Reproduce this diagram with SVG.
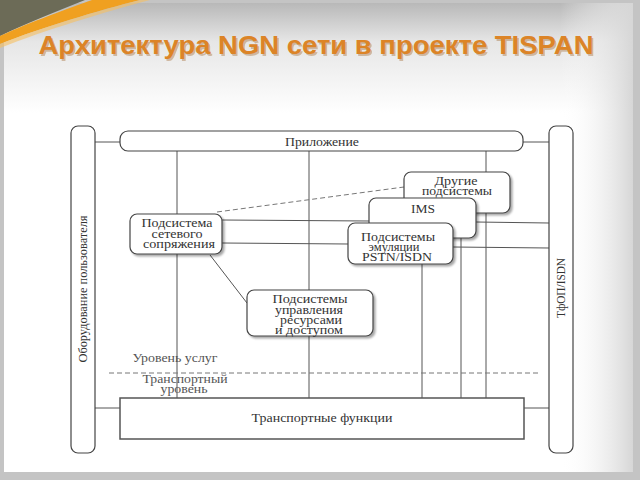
<svg xmlns="http://www.w3.org/2000/svg" width="640" height="480" viewBox="0 0 640 480">
<defs>
<linearGradient id="topg" x1="0" y1="0" x2="0" y2="1">
<stop offset="0" stop-color="#b8b8b8"/>
<stop offset="0.35" stop-color="#e6e6e6"/>
<stop offset="1" stop-color="#ffffff"/>
</linearGradient>
<linearGradient id="rg" x1="0" y1="0" x2="1" y2="0">
<stop offset="0" stop-color="#ffffff" stop-opacity="0"/>
<stop offset="1" stop-color="#d6d6d6"/>
</linearGradient>
<filter id="sh" x="-5%" y="-20%" width="110%" height="140%">
<feGaussianBlur in="SourceAlpha" stdDeviation="1"/>
<feOffset dx="1.5" dy="1.5" result="b"/>
<feComponentTransfer><feFuncA type="linear" slope="0.35"/></feComponentTransfer>
<feMerge><feMergeNode/><feMergeNode in="SourceGraphic"/></feMerge>
</filter>
<style>
.ln{stroke:#555;stroke-width:1;fill:none}
.dash{stroke:#777;stroke-width:1;fill:none;stroke-dasharray:5 3}
.box{fill:#fff;stroke:#444;stroke-width:1.2}
text.t{font-family:'Liberation Serif','DejaVu Serif',serif;font-size:12.5px;fill:#333;text-anchor:middle}
text.ts{font-family:'Liberation Serif','DejaVu Serif',serif;font-size:11.5px;fill:#333;text-anchor:middle}
text.tl{font-family:'Liberation Serif','DejaVu Serif',serif;font-size:12.5px;fill:#555;text-anchor:middle}
</style>
</defs>
<!-- slide background -->
<rect x="0" y="0" width="640" height="480" fill="#c4c4c4"/>
<rect x="4" y="3" width="629" height="469" fill="#ffffff"/>
<rect x="4" y="3" width="629" height="110" fill="url(#topg)"/>
<rect x="560" y="3" width="73" height="469" fill="url(#rg)"/>
<path d="M0,0 L85,0 C55,12 25,24 0,36 Z" fill="#6c6b57"/>
<path d="M0,36 C30,22 70,8 92,0 L140,0 C100,10 40,28 0,44 Z" fill="#f0a020"/>
<path d="M0,44 C40,28 100,10 140,0 L150,0 C105,12 45,30 0,48 Z" fill="#f7c060" opacity="0.6"/>
<!-- title -->
<text x="316" y="54" font-family="'Liberation Sans',Arial,sans-serif" font-size="26" font-weight="bold" fill="#9a5a1a" opacity="0.35" text-anchor="middle" textLength="555" lengthAdjust="spacingAndGlyphs" transform="translate(1.5,1.5)">Архитектура NGN сети в проекте TISPAN</text>
<text id="title" x="316" y="54" font-family="'Liberation Sans',Arial,sans-serif" font-size="26" font-weight="bold" fill="#dc8427" text-anchor="middle" textLength="555" lengthAdjust="spacingAndGlyphs">Архитектура NGN сети в проекте TISPAN</text>

<!-- connectors -->
<g id="connectors">
<line class="ln" x1="95" y1="142" x2="120" y2="142"/>
<line class="ln" x1="523" y1="142" x2="549" y2="142"/>
<line class="ln" x1="95" y1="408" x2="120" y2="408"/>
<line class="ln" x1="524" y1="408" x2="549" y2="408"/>
<line class="ln" x1="177" y1="151" x2="177" y2="398"/>
<line class="ln" x1="309" y1="151" x2="309" y2="398"/>
<line class="ln" x1="486" y1="151" x2="486" y2="398"/>
<line class="ln" x1="461" y1="238" x2="461" y2="398"/>
<line class="ln" x1="422" y1="264" x2="422" y2="398"/>
<line class="ln" x1="222" y1="220" x2="369" y2="221"/>
<line class="ln" x1="476" y1="222" x2="549" y2="223"/>
<line class="ln" x1="222" y1="243" x2="348" y2="244"/>
<line class="ln" x1="453" y1="247" x2="549" y2="248"/>
<line class="dash" x1="217" y1="212" x2="404" y2="187"/>
<line class="ln" x1="210" y1="255" x2="247" y2="303"/>
<line class="dash" x1="109" y1="373" x2="538" y2="373"/>
</g>

<!-- side columns -->
<g id="user-equipment">
<rect class="box" x="71" y="126" width="24" height="327" rx="7"/>
<text class="t" transform="translate(87,289) rotate(-90)" style="font-size:13px" textLength="147" lengthAdjust="spacingAndGlyphs">Оборудование пользователя</text>
</g>
<g id="pstn-isdn">
<rect class="box" x="549" y="126" width="24" height="327" rx="7"/>
<text class="t" transform="translate(565,288) rotate(-90)" style="font-size:13px" textLength="60" lengthAdjust="spacingAndGlyphs">ТфОП/ISDN</text>
</g>

<g id="application">
<rect class="box" x="120" y="131" width="403" height="20" rx="8"/>
<text class="t" x="322" y="146" style="font-size:13px" textLength="74" lengthAdjust="spacingAndGlyphs">Приложение</text>
</g>

<g id="network-interface">
<rect class="box" x="130" y="214" width="92" height="40" rx="7" filter="url(#sh)"/>
<text class="t" x="177" y="227" textLength="71" lengthAdjust="spacingAndGlyphs">Подсистема</text>
<text class="t" x="177" y="238" textLength="51" lengthAdjust="spacingAndGlyphs">сетевого</text>
<text class="t" x="179" y="248" textLength="72" lengthAdjust="spacingAndGlyphs">сопряжения</text>
</g>

<g id="other-subsystems">
<rect class="box" x="404" y="172" width="106" height="41" rx="7" filter="url(#sh)"/>
<text class="t" x="456" y="185" textLength="43" lengthAdjust="spacingAndGlyphs">Другие</text>
<text class="t" x="457" y="195" textLength="70" lengthAdjust="spacingAndGlyphs">подсистемы</text>
</g>

<g id="ims">
<rect class="box" x="369" y="198" width="107" height="40" rx="7" filter="url(#sh)"/>
<text class="t" x="423" y="213" textLength="24" lengthAdjust="spacingAndGlyphs">IMS</text>
</g>

<g id="pstn-emulation">
<rect class="box" x="348" y="223" width="105" height="41" rx="7" filter="url(#sh)"/>
<text class="t" x="398" y="241" textLength="74" lengthAdjust="spacingAndGlyphs">Подсистемы</text>
<text class="ts" x="394" y="251" textLength="51" lengthAdjust="spacingAndGlyphs">эмуляции</text>
<text class="t" x="397" y="261" textLength="70" lengthAdjust="spacingAndGlyphs">PSTN/ISDN</text>
</g>

<g id="resource-control">
<rect class="box" x="247" y="290" width="126" height="46" rx="7" filter="url(#sh)"/>
<text class="ts" x="310" y="303" textLength="75" lengthAdjust="spacingAndGlyphs">Подсистемы</text>
<text class="ts" x="309" y="314" textLength="68" lengthAdjust="spacingAndGlyphs">управления</text>
<text class="ts" x="311" y="324" textLength="62" lengthAdjust="spacingAndGlyphs">ресурсами</text>
<text class="ts" x="309" y="334" textLength="68" lengthAdjust="spacingAndGlyphs">и доступом</text>
</g>

<g id="layers">
<text class="tl" x="175" y="362" textLength="85" lengthAdjust="spacingAndGlyphs">Уровень услуг</text>
<text class="tl" x="185" y="383" textLength="85" lengthAdjust="spacingAndGlyphs">Транспортный</text>
<text class="tl" x="184" y="393" textLength="47" lengthAdjust="spacingAndGlyphs">уровень</text>
</g>

<g id="transport">
<rect x="120" y="398" width="404" height="41" fill="#fff" stroke="#555" stroke-width="1.5"/>
<text class="t" x="322" y="422" style="font-size:13px" textLength="141" lengthAdjust="spacingAndGlyphs">Транспортные функции</text>
</g>
</svg>
